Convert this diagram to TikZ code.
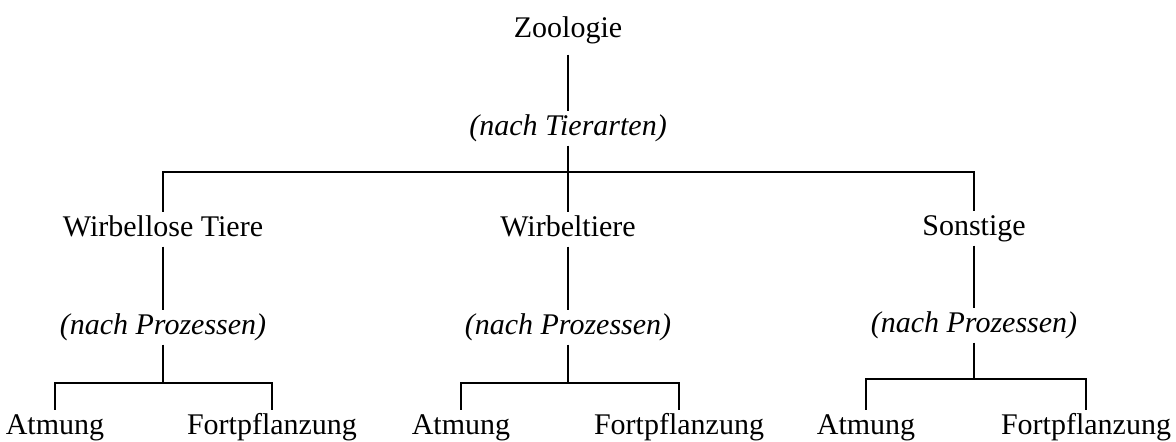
\documentclass[tikz,border=0pt]{standalone}
\usepackage{fontspec}
\setmainfont{Liberation Serif}
\begin{document}
\begin{tikzpicture}[
    x=1pt, y=-1pt,
    term/.style={font=\fontsize{30}{36}\selectfont, anchor=base,
                 text height=21pt, text depth=7.5pt,
                 inner xsep=2pt, inner ysep=3pt},
    facet/.style={term, font=\fontsize{30}{36}\selectfont\itshape},
    branch/.style={line width=1.6pt},
]
\useasboundingbox (0,0) rectangle (1176,442);

% ---------- Root and first facet ----------
\node[term, inner ysep=10pt] (zoo) at (568, 37) {Zoologie};
\node[facet] (tier) at (568, 135) {(nach Tierarten)};

% ---------- Animal groups ----------
\node[term] (wirbellos) at (163, 236) {Wirbellose Tiere};
\node[term] (wirbel)    at (568, 236) {Wirbeltiere};
\node[term] (sonst)     at (974, 235) {Sonstige};

% ---------- Process facets ----------
\node[facet] (proz1) at (163, 334) {(nach Prozessen)};
\node[facet] (proz2) at (568, 334) {(nach Prozessen)};
\node[facet] (proz3) at (974, 332) {(nach Prozessen)};

% ---------- Leaves ----------
\node[term] (atm1)  at (55, 434)   {Atmung};
\node[term] (fort1) at (272, 434)  {Fortpflanzung};
\node[term] (atm2)  at (461, 434)  {Atmung};
\node[term] (fort2) at (679, 434)  {Fortpflanzung};
\node[term] (atm3)  at (866, 434)  {Atmung};
\node[term] (fort3) at (1086, 434) {Fortpflanzung};

% ---------- Bar heights ----------
\coordinate (top)  at (568, 172);
\coordinate (bar1) at (163, 383);
\coordinate (bar2) at (568, 383);
\coordinate (bar3) at (974, 379);

% ---------- Edges ----------
\draw[branch] (zoo) -- (tier);
\draw[branch] (tier) -- (wirbel);
\draw[branch] (wirbellos) |- (top) -| (sonst);

\draw[branch] (wirbellos) -- (proz1);
\draw[branch] (wirbel)    -- (proz2);
\draw[branch] (sonst)     -- (proz3);

\draw[branch] (proz1) -- (bar1);
\draw[branch] (proz2) -- (bar2);
\draw[branch] (proz3) -- (bar3);

\draw[branch] (atm1) |- (bar1) -| (fort1);
\draw[branch] (atm2) |- (bar2) -| (fort2);
\draw[branch] (atm3) |- (bar3) -| (fort3);

\end{tikzpicture}
\end{document}
